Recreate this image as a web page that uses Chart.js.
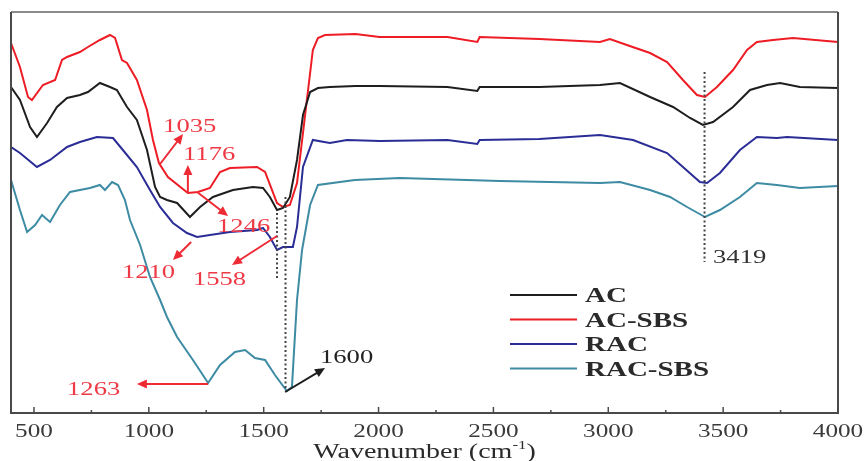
<!DOCTYPE html>
<html>
<head>
<meta charset="utf-8">
<script src="https://cdn.jsdelivr.net/npm/chart.js@4"></script>
<style>
  html, body { margin: 0; padding: 0; background: #fff; }
  #wrap { width: 864px; height: 461px; }
</style>
</head>
<body>
<div id="wrap"><canvas id="ftir"></canvas></div>
<script>
// FTIR spectra, arbitrary transmittance units
const tickVals = [500, 1000, 1500, 2000, 2500, 3000, 3500, 4000];
const minorVals = [750, 1250, 1750, 2250, 2750, 3250, 3750];

const acWn = [400, 439, 483, 513, 557, 600, 644, 700, 735, 787, 831, 861, 905, 948, 992, 1027, 1049, 1079, 1123, 1179, 1223, 1279, 1366, 1453, 1497, 1527, 1558, 1584, 1614, 1645, 1671, 1702, 1736, 1788, 1900, 2004, 2300, 2430, 2440, 2700, 2964, 3051, 3182, 3282, 3356, 3412, 3456, 3543, 3617, 3691, 3748, 3834, 4000];
const acT = [326, 313, 286, 276, 290, 306, 315, 318, 321, 330, 326, 323, 306, 293, 263, 226, 216, 213, 210, 196, 206, 216, 223, 226, 225, 216, 203, 205, 216, 253, 298, 321, 325, 326, 327, 327, 326, 322, 326, 326, 328, 330, 316, 306, 295, 288, 291, 306, 323, 328, 330, 326, 325];

const acsbsWn = [400, 439, 474, 491, 539, 592, 622, 644, 700, 735, 787, 831, 853, 883, 905, 948, 992, 1018, 1044, 1083, 1170, 1214, 1266, 1310, 1353, 1471, 1506, 1558, 1584, 1614, 1645, 1671, 1688, 1714, 1736, 1767, 1900, 2004, 2300, 2430, 2440, 2700, 2964, 3007, 3081, 3182, 3256, 3325, 3386, 3421, 3473, 3543, 3604, 3647, 3717, 3804, 4000];
const acsbsT = [370, 346, 316, 313, 328, 333, 353, 356, 361, 366, 373, 378, 375, 353, 350, 333, 303, 273, 250, 236, 220, 221, 225, 241, 245, 246, 241, 210, 206, 208, 230, 280, 313, 363, 375, 378, 379, 376, 376, 371, 376, 374, 371, 374, 368, 360, 351, 333, 318, 316, 326, 343, 363, 371, 373, 375, 371];

const racWn = [400, 439, 513, 570, 644, 700, 774, 844, 887, 948, 1005, 1049, 1105, 1166, 1210, 1266, 1353, 1471, 1497, 1527, 1558, 1584, 1627, 1645, 1671, 1714, 1788, 1862, 2006, 2300, 2430, 2440, 2700, 2964, 3108, 3256, 3325, 3399, 3430, 3486, 3573, 3647, 3734, 3778, 4000];
const racT = [266, 260, 246, 253, 266, 271, 276, 275, 263, 246, 223, 206, 190, 180, 176, 178, 181, 183, 185, 176, 163, 166, 166, 186, 246, 273, 270, 273, 272, 273, 269, 273, 274, 278, 273, 260, 246, 231, 230, 240, 263, 276, 275, 276, 273];

const racsbsWn = [400, 439, 470, 505, 535, 570, 613, 657, 700, 744, 787, 809, 840, 866, 896, 918, 962, 1005, 1049, 1079, 1123, 1192, 1258, 1310, 1375, 1419, 1462, 1506, 1549, 1601, 1623, 1645, 1667, 1702, 1736, 1897, 2093, 2529, 2964, 3051, 3182, 3269, 3343, 3421, 3486, 3573, 3647, 3734, 3834, 4000];
const racsbsT = [233, 203, 181, 188, 198, 191, 208, 221, 223, 225, 228, 223, 231, 228, 213, 193, 168, 136, 113, 96, 76, 53, 30, 48, 61, 63, 55, 53, 38, 22, 26, 113, 163, 208, 228, 233, 235, 232, 230, 231, 223, 216, 206, 196, 203, 216, 230, 228, 225, 227];

const seriesNames = ['AC', 'AC-SBS', 'RAC', 'RAC-SBS'];
const seriesColors = ['#1e1e1e', '#ee1d25', '#2b2d96', '#3e8ba4'];

// peak labels: [text, wavenumber, value at baseline, colour]
const peakLabels = [
  ['1035', 1062, 281, '#ee3a45'],
  ['1176', 1149, 253, '#ee3a45'],
  ['1246', 1297, 181, '#ee3a45'],
  ['1210', 883, 135, '#ee3a45'],
  ['1558', 1192, 128, '#ee3a45'],
  ['1263', 644, 18, '#ee3a45'],
  ['1600', 1745, 50, '#222'],
  ['3419', 3456, 150, '#333']
];
// arrows: [x1, y1, x2, y2, colour] in data units
const peakArrows = [
  [1049, 249, 1149, 279, '#ee2a35'],
  [1170, 220, 1170, 248, '#ee2a35'],
  [1210, 221, 1345, 197, '#ee2a35'],
  [1184, 171, 1105, 153, '#ee2a35'],
  [1558, 177, 1362, 148, '#ee2a35'],
  [1258, 29, 948, 29, '#ee2a35'],
  [1593, 21, 1767, 45, '#1e1e1e']
];
// dotted guides: [wavenumber, top, bottom]
const guides = [[3419, 341, 151], [1558, 200, 135], [1595, 216, 23]];

const serif = '"Liberation Serif", "Times New Roman", serif';
const XS = 1.4; // the original figure is stretched horizontally

function pts(xs, ys) {
  return xs.map((x, i) => ({ x: x, y: ys[i] }));
}

function stretchedText(ctx, s, x, y, font, color, align, sx) {
  ctx.save();
  ctx.font = font;
  ctx.fillStyle = color;
  ctx.textBaseline = 'alphabetic';
  ctx.textAlign = align || 'left';
  ctx.translate(x, y);
  ctx.scale(sx || XS, 1);
  ctx.fillText(s, 0, 0);
  ctx.restore();
}

function arrow(ctx, x1, y1, x2, y2, color) {
  const a = Math.atan2(y2 - y1, x2 - x1);
  const L = 10, W = 4.5;
  ctx.save();
  ctx.strokeStyle = color;
  ctx.fillStyle = color;
  ctx.lineWidth = 2;
  ctx.beginPath();
  ctx.moveTo(x1, y1);
  ctx.lineTo(x2 - L * 0.6 * Math.cos(a), y2 - L * 0.6 * Math.sin(a));
  ctx.stroke();
  ctx.beginPath();
  ctx.moveTo(x2, y2);
  ctx.lineTo(x2 - L * Math.cos(a) + W * Math.sin(a), y2 - L * Math.sin(a) - W * Math.cos(a));
  ctx.lineTo(x2 - L * Math.cos(a) - W * Math.sin(a), y2 - L * Math.sin(a) + W * Math.cos(a));
  ctx.closePath();
  ctx.fill();
  ctx.restore();
}

const decor = {
  id: 'decor',
  afterDraw(chart) {
    const ctx = chart.ctx;
    const xs = chart.scales.x, ys = chart.scales.y;
    const a = chart.chartArea;
    const px = v => xs.getPixelForValue(v);
    const py = v => ys.getPixelForValue(v);

    // dotted guides
    ctx.save();
    ctx.strokeStyle = '#444';
    ctx.lineWidth = 2;
    ctx.setLineDash([2, 2.5]);
    guides.forEach(g => {
      ctx.beginPath();
      ctx.moveTo(px(g[0]), py(g[1]));
      ctx.lineTo(px(g[0]), py(g[2]));
      ctx.stroke();
    });
    ctx.restore();

    peakArrows.forEach(r => arrow(ctx, px(r[0]), py(r[1]), px(r[2]), py(r[3]), r[4]));
    peakLabels.forEach(l => stretchedText(ctx, l[0], px(l[1]), py(l[2]), '19px ' + serif, l[3], 'left'));

    // frame
    ctx.save();
    ctx.lineWidth = 2;
    ctx.strokeStyle = '#8a8a8a';
    ctx.beginPath();
    ctx.moveTo(a.left, a.top);
    ctx.lineTo(a.right, a.top);
    ctx.stroke();
    ctx.strokeStyle = '#4a4a4a';
    ctx.beginPath();
    ctx.moveTo(a.right, a.top);
    ctx.lineTo(a.right, a.bottom);
    ctx.lineTo(a.left, a.bottom);
    ctx.lineTo(a.left, a.top);
    ctx.stroke();
    // inward ticks
    ctx.lineWidth = 1.5;
    tickVals.forEach(v => {
      ctx.beginPath();
      ctx.moveTo(px(v), a.bottom);
      ctx.lineTo(px(v), a.bottom - 6);
      ctx.stroke();
    });
    minorVals.forEach(v => {
      ctx.beginPath();
      ctx.moveTo(px(v), a.bottom);
      ctx.lineTo(px(v), a.bottom - 3);
      ctx.stroke();
    });
    ctx.restore();

    // tick labels
    tickVals.forEach(v => stretchedText(ctx, String(v), px(v), a.bottom + 24, '18px ' + serif, '#3a3a3a', 'center'));

    // axis title with superscript
    ctx.save();
    const f1 = '20px ' + serif, f2 = '12px ' + serif;
    ctx.font = f1;
    const w1 = ctx.measureText('Wavenumber (cm').width;
    const w3 = ctx.measureText(')').width;
    ctx.font = f2;
    const w2 = ctx.measureText('-1').width;
    ctx.restore();
    const total = (w1 + w2 + w3) * XS;
    let tx = (a.left + a.right) / 2 - total / 2;
    const ty = a.bottom + 45;
    stretchedText(ctx, 'Wavenumber (cm', tx, ty, f1, '#2a2a2a', 'left');
    tx += w1 * XS;
    stretchedText(ctx, '-1', tx, ty - 9, f2, '#2a2a2a', 'left');
    tx += w2 * XS;
    stretchedText(ctx, ')', tx, ty, f1, '#2a2a2a', 'left');

    // legend
    chart.data.datasets.forEach((ds, i) => {
      const yb = 302 + i * 24.5;
      ctx.save();
      ctx.strokeStyle = ds.borderColor;
      ctx.lineWidth = 2;
      ctx.beginPath();
      ctx.moveTo(510, yb - 7);
      ctx.lineTo(577, yb - 7);
      ctx.stroke();
      ctx.restore();
      stretchedText(ctx, ds.label, 585, yb, 'bold 20px ' + serif, '#2a2a2a', 'left', 1.45);
    });
  }
};

const allX = [acWn, acsbsWn, racWn, racsbsWn];
const allY = [acT, acsbsT, racT, racsbsT];

new Chart(document.getElementById('ftir'), {
  type: 'line',
  data: {
    datasets: seriesNames.map((name, i) => ({
      label: name,
      data: pts(allX[i], allY[i]),
      borderColor: seriesColors[i],
      borderWidth: 2,
      pointRadius: 0,
      tension: 0,
      fill: false
    }))
  },
  options: {
    responsive: true,
    maintainAspectRatio: false,
    animation: false,
    layout: { padding: { left: 11, right: 26, top: 12, bottom: 48 } },
    scales: {
      x: { type: 'linear', min: 400, max: 4000, display: false },
      y: { min: 0, max: 401, display: false }
    },
    plugins: {
      legend: { display: false },
      tooltip: { enabled: false }
    }
  },
  plugins: [decor]
});
</script>
</body>
</html>
